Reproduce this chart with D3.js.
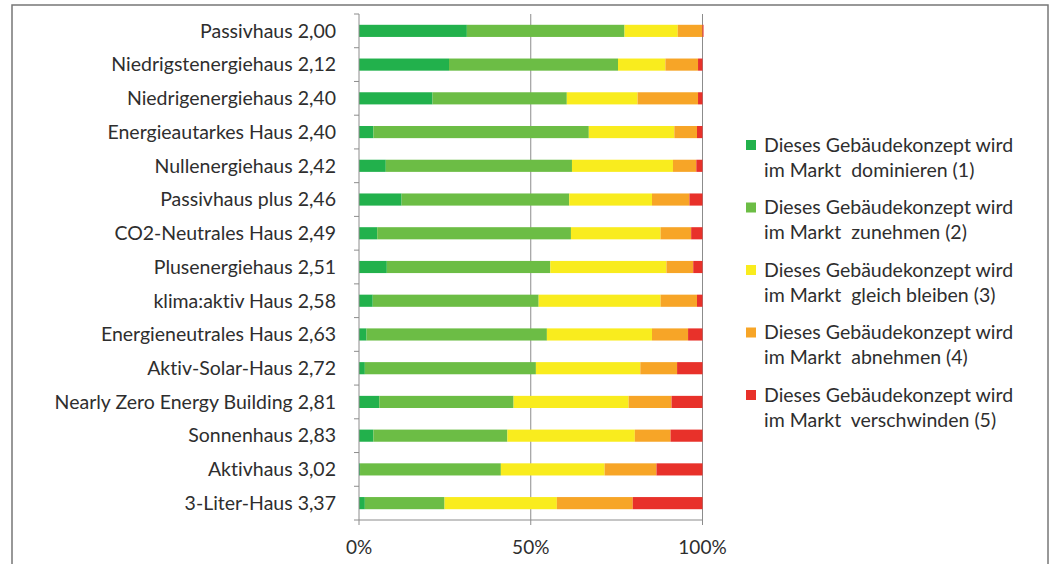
<!DOCTYPE html>
<html><head><meta charset="utf-8">
<script src="https://cdn.jsdelivr.net/npm/d3@7"></script>
<style>body{margin:0;background:#fff}svg{display:block}text{font-family:Lato,"Open Sans",sans-serif;fill:#2e2e2e;font-variant-ligatures:none;font-feature-settings:"liga" 0}</style>
</head><body><svg id="c" width="1054" height="564"></svg>
<script>
const categories = ["Passivhaus 2,00","Niedrigstenergiehaus 2,12","Niedrigenergiehaus 2,40","Energieautarkes Haus 2,40","Nullenergiehaus 2,42","Passivhaus plus 2,46","CO2-Neutrales Haus 2,49","Plusenergiehaus 2,51","klima:aktiv Haus 2,58","Energieneutrales Haus 2,63","Aktiv-Solar-Haus 2,72","Nearly Zero Energy Building 2,81","Sonnenhaus 2,83","Aktivhaus 3,02","3-Liter-Haus 3,37"];
const dominieren   = [31.4,26.2,21.4,4.2,7.8,12.4,5.3,8.1,4.0,2.2,1.7,5.9,4.2,0.3,1.7];
const zunehmen     = [45.9,49.2,39.1,62.7,54.2,48.8,56.4,47.6,48.3,52.5,49.8,39.1,39.0,41.0,23.2];
const gleich       = [15.5,13.8,20.6,24.9,29.4,24.1,26.1,33.8,35.5,30.6,30.4,33.5,37.1,30.2,32.7];
const abnehmen     = [7.2,9.5,17.6,6.6,6.8,10.9,8.9,7.8,10.6,10.5,10.7,12.5,10.4,15.1,22.1];
const verschwinden = [0.3,1.3,1.3,1.6,1.8,3.8,3.3,2.7,1.6,4.2,7.4,9.0,9.3,13.4,20.3];
const seriesNames = ["Dieses Gebäudekonzept wird|im Markt  dominieren (1)","Dieses Gebäudekonzept wird|im Markt  zunehmen (2)","Dieses Gebäudekonzept wird|im Markt  gleich bleiben (3)","Dieses Gebäudekonzept wird|im Markt  abnehmen (4)","Dieses Gebäudekonzept wird|im Markt  verschwinden (5)"];
const colors = ["#22b14c","#6cbd45","#f9ec1e","#f7a527","#e8312a"];
const xTicks = [0,50,100];
const xTickLabels = ["0%","50%","100%"];

const svg = d3.select("#c");
svg.append("rect").attr("x",12).attr("y",5).attr("width",1036).attr("height",570).attr("fill","#fff").attr("stroke","#777").attr("stroke-width",1.5);

const keys = ["d","z","g","a","v"];
const table = categories.map((c,i)=>({cat:c,d:dominieren[i],z:zunehmen[i],g:gleich[i],a:abnehmen[i],v:verschwinden[i]}));
const stack = d3.stack().keys(keys)(table);

const x = d3.scaleLinear().domain([0,100]).range([359,702.5]);
const y = d3.scaleBand().domain(categories).range([14,520]).paddingInner(0.64).paddingOuter(0.32);
const step = y.step();

// gridlines
svg.append("g").selectAll("line").data(xTicks.slice(1)).join("line")
  .attr("x1",d=>x(d)).attr("x2",d=>x(d)).attr("y1",14).attr("y2",520)
  .attr("stroke","#8c8c8c").attr("stroke-width",1);

// bars
svg.append("g").selectAll("g").data(stack).join("g").attr("fill",(d,i)=>colors[i])
  .selectAll("rect").data(d=>d).join("rect")
  .attr("x",d=>x(d[0])).attr("width",d=>Math.max(0,x(d[1])-x(d[0])))
  .attr("y",d=>y(d.data.cat)).attr("height",y.bandwidth());

// y axis
const ya = svg.append("g");
ya.append("line").attr("x1",359).attr("x2",359).attr("y1",14).attr("y2",520).attr("stroke","#8c8c8c");
ya.selectAll("line.t").data(d3.range(categories.length+1)).join("line").attr("class","t")
  .attr("x1",354).attr("x2",359).attr("y1",i=>14+i*step).attr("y2",i=>14+i*step).attr("stroke","#8c8c8c");
ya.selectAll("text").data(categories).join("text")
  .attr("x",336).attr("y",d=>y(d)+y.bandwidth()/2).attr("dy","0.35em")
  .attr("text-anchor","end").attr("font-size",19.5).text(d=>d);

// x axis
const xa = svg.append("g");
xa.append("line").attr("x1",359).attr("x2",702.5).attr("y1",520).attr("y2",520).attr("stroke","#8c8c8c");
xa.selectAll("line.t").data(xTicks).join("line").attr("class","t")
  .attr("x1",d=>x(d)).attr("x2",d=>x(d)).attr("y1",520).attr("y2",525).attr("stroke","#8c8c8c");
xa.selectAll("text").data(xTicks).join("text")
  .attr("x",d=>x(d)).attr("y",547).attr("dy","0.35em").attr("text-anchor","middle").attr("font-size",19)
  .text((d,i)=>xTickLabels[i]);

// legend
const lg = svg.append("g");
seriesNames.forEach((n,i)=>{
  const cy = 145 + i*62.5;
  lg.append("rect").attr("x",746).attr("y",cy-5).attr("width",10).attr("height",10).attr("fill",colors[i]);
  const parts = n.split("|");
  parts.forEach((p,j)=>{
    lg.append("text").attr("x",764).attr("y",cy+j*25).attr("dy","0.35em").attr("font-size",19.5)
      .attr("xml:space","preserve").style("white-space","pre").text(p);
  });
});
</script></body></html>
